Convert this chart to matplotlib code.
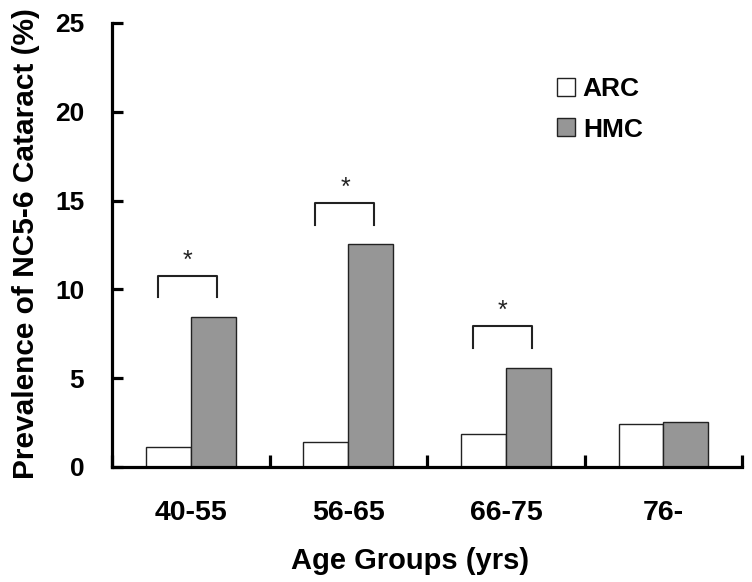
import matplotlib.pyplot as plt
import numpy as np

plt.rcParams['font.family'] = ['Liberation Sans', 'DejaVu Sans']

groups = ['40-55', '56-65', '66-75', '76-']
arc = [1.1, 1.4, 1.85, 2.4]
hmc = [8.45, 12.55, 5.6, 2.55]
significant = [True, True, True, False]

fig = plt.figure(figsize=(7.52, 5.82), dpi=100)
ax = fig.add_axes([0.149, 0.1976, 0.838, 0.7629])

x = np.arange(len(groups))
w = 0.285
ax.bar(x - w / 2, arc, w, color='white', edgecolor='#222222', linewidth=1.0, label='ARC')
ax.bar(x + w / 2, hmc, w, color='#969696', edgecolor='#222222', linewidth=1.0, label='HMC')

# significance brackets
for i, sig in enumerate(significant):
    if not sig:
        continue
    base = hmc[i] + 1.1
    top = base + 1.22
    x0, x1 = x[i] - 0.21, x[i] + 0.165
    ax.plot([x0, x0, x1, x1], [base, top, top, base], color='#222222', lw=1.5)
    ax.text(x[i] - 0.02, top + 0.45, '*', ha='center', va='baseline', fontsize=18, color='#222222')

ax.set_xlim(-0.5, 3.5)
ax.set_ylim(0, 25)
ax.set_yticks([0, 5, 10, 15, 20, 25])
ax.set_xticks(np.arange(-0.5, 4, 1))
ax.set_xticklabels([])
ax.set_xticks(x, minor=True)
ax.set_xticklabels(groups, minor=True, fontsize=20.5, fontweight='bold')
ax.tick_params(axis='x', which='minor', length=0, pad=24)
ax.tick_params(axis='x', which='major', direction='in', length=9, width=2.3)
ax.tick_params(axis='y', direction='in', length=8, width=2.3, pad=20, labelsize=19)
for lab in ax.get_yticklabels():
    lab.set_fontweight('bold')

for s in ['top', 'right']:
    ax.spines[s].set_visible(False)
for s in ['left', 'bottom']:
    ax.spines[s].set_linewidth(2.3)

ax.set_xlabel('Age Groups (yrs)', fontsize=21, fontweight='bold', labelpad=15)
ax.set_ylabel('Prevalence of NC5-6 Cataract (%)', fontsize=21.5, fontweight='bold', labelpad=11)
ax.xaxis.label.set_x(0.473)
ax.yaxis.label.set_y(0.504)

ax.legend(loc='upper left', bbox_to_anchor=(0.706, 0.878), frameon=False,
          borderpad=0, borderaxespad=0,
          prop={'size': 19, 'weight': 'bold'}, handlelength=0.68, handleheight=0.68,
          handletextpad=0.3, labelspacing=0.62)

fig.savefig('out.png', dpi=100)
